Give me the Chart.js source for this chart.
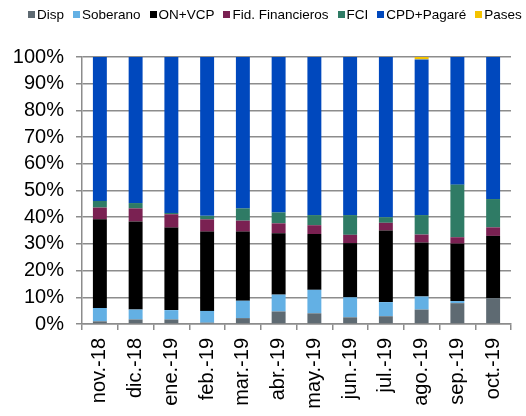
<!DOCTYPE html>
<html>
<head>
<meta charset="utf-8">
<script src="https://cdn.jsdelivr.net/npm/chart.js@4/dist/chart.umd.min.js"></script>
<style>
  html, body { margin: 0; padding: 0; background: #fff; }
  #wrap { position: relative; width: 526px; height: 416px; }
  #legend {
    position: absolute; left: 28px; top: 6px; white-space: nowrap;
    font-family: 'Liberation Sans', Arial, sans-serif; font-size: 13.5px; line-height: 17px; color: #000;
  }
  #legend span.item { margin-right: 9px; }
  #legend span.box { display: inline-block; width: 7px; height: 7px; margin-right: 2px; vertical-align: 1px; }
</style>
</head>
<body>
<div id="wrap">
  <canvas id="chart" width="526" height="416"></canvas>
  <div id="legend"></div>
</div>
<script>
// meses
const meses = ["nov.-18", "dic.-18", "ene.-19", "feb.-19", "mar.-19", "abr.-19",
               "may.-19", "jun.-19", "jul.-19", "ago.-19", "sep.-19", "oct.-19"];

// composicion de cartera (%)
const disp      = [1.0, 1.7, 1.7, 0.5, 2.2, 4.7, 4.0, 2.5, 2.9, 5.4, 7.8, 9.7];
const soberano  = [5.0, 3.7, 3.5, 4.4, 6.5, 6.3, 8.8, 7.5, 5.3, 4.9, 0.8, 0.0];
const onVcp     = [33.2, 33.0, 30.9, 29.7, 25.9, 23.0, 20.9, 20.3, 26.8, 20.2, 21.5, 23.3];
const fidFin    = [4.4, 4.9, 5.0, 4.6, 4.1, 3.7, 3.3, 3.1, 2.9, 3.0, 2.4, 3.2];
const fci       = [2.5, 2.0, 0.5, 1.3, 4.6, 4.1, 3.8, 7.4, 2.1, 7.3, 19.7, 10.6];
const cpdPagare = [53.9, 54.7, 58.4, 59.5, 56.7, 58.2, 59.2, 59.2, 60.0, 58.3, 47.8, 53.2];
const pases     = [0, 0, 0, 0, 0, 0, 0, 0, 0, 0.9, 0, 0];

const yTicks = [0, 10, 20, 30, 40, 50, 60, 70, 80, 90, 100];

const FONT = "'Liberation Sans', Arial, sans-serif";

function serie(label, data, color) {
  return {
    label: label,
    data: data,
    backgroundColor: color,
    borderWidth: 0,
    barPercentage: 0.39,
    categoryPercentage: 1.0
  };
}

const chart = new Chart(document.getElementById("chart"), {
  type: "bar",
  data: {
    labels: meses,
    datasets: [
      serie("Disp", disp, "#5e6a72"),
      serie("Soberano", soberano, "#63b0e4"),
      serie("ON+VCP", onVcp, "#000000"),
      serie("Fid. Financieros", fidFin, "#7a2152"),
      serie("FCI", fci, "#2f7b65"),
      serie("CPD+Pagaré", cpdPagare, "#0048bd"),
      serie("Pases", pases, "#f4c300")
    ]
  },
  options: {
    responsive: false,
    animation: false,
    layout: { padding: { left: 0, right: 15, top: 57, bottom: 0 } },
    plugins: {
      legend: { display: false },
      tooltip: { enabled: false }
    },
    scales: {
      x: {
        stacked: true,
        grid: {
          display: true,
          drawOnChartArea: false,
          offset: true,
          tickLength: 6,
          color: "#8c8c8c",
          lineWidth: 1.5
        },
        border: { color: "#8c8c8c", width: 1.5 },
        ticks: {
          color: "#000",
          font: { family: FONT, size: 20 },
          minRotation: 90,
          maxRotation: 90,
          autoSkip: false,
          padding: 8
        },
        afterFit: function (scale) { scale.height = 92; }
      },
      y: {
        stacked: true,
        min: 0,
        max: 100,
        afterBuildTicks: function (scale) {
          scale.ticks = yTicks.map(function (v) { return { value: v }; });
        },
        grid: {
          color: "#8c8c8c",
          lineWidth: 1.5,
          tickLength: 6
        },
        border: { color: "#8c8c8c", width: 1.5 },
        ticks: {
          color: "#000",
          font: { family: FONT, size: 20 },
          padding: 12,
          autoSkip: false,
          callback: function (v) { return v + "%"; }
        },
        afterFit: function (scale) { scale.width = 82; }
      }
    }
  }
});

// leyenda en HTML, a partir de los datasets
const leg = document.getElementById("legend");
chart.data.datasets.forEach(function (ds) {
  const item = document.createElement("span");
  item.className = "item";
  const box = document.createElement("span");
  box.className = "box";
  box.style.background = ds.backgroundColor;
  item.appendChild(box);
  item.appendChild(document.createTextNode(ds.label));
  leg.appendChild(item);
});
</script>
</body>
</html>
